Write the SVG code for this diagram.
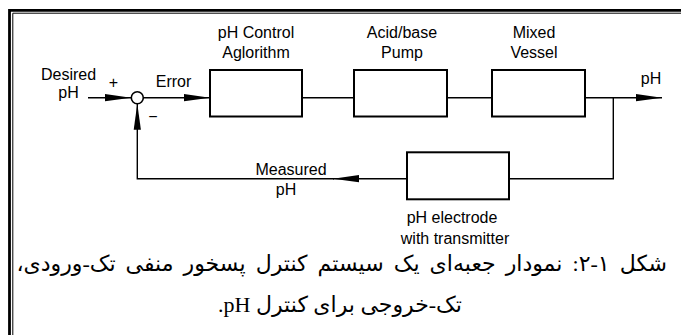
<svg xmlns="http://www.w3.org/2000/svg" width="681" height="335" viewBox="0 0 681 335">
<style>
.lbl{font-family:"Liberation Sans",Arial,sans-serif;font-size:16px;fill:#000;text-anchor:middle}
.blk{fill:#fff;stroke:#000;stroke-width:2}
.wire{fill:none;stroke:#000;stroke-width:1.4}
.cap{font-family:"Liberation Serif","DejaVu Sans",serif;font-size:22px;fill:#000}
</style>
<defs>
<marker id="ah" markerUnits="userSpaceOnUse" markerWidth="28" markerHeight="10" refX="26" refY="5" orient="auto">
<path d="M0,1.4 L26,5 L0,8.6 Z" fill="#000"/>
</marker>
</defs>
<rect width="681" height="335" fill="#fff"/>
<g id="frame" fill="none" stroke="#000">
<path d="M9.5,335 V10.4 H681" stroke-width="2.8"/>
<path d="M12.8,335 V13.2 H681" stroke-width="1"/>
</g>
<g id="connectors">
<path class="wire" d="M88,97.7 H131" marker-end="url(#ah)"/>
<path class="wire" d="M143,97.7 H210" marker-end="url(#ah)"/>
<path class="wire" d="M302,97.7 H354"/>
<path class="wire" d="M447,97.7 H492"/>
<path class="wire" d="M585,97.7 H662" marker-end="url(#ah)"/>
<path class="wire" d="M613.3,97.7 V178.7 H509"/>
<path class="wire" d="M407,178.7 H333" marker-end="url(#ah)"/>
<path class="wire" d="M334,178.7 H137.3 V103.7" marker-end="url(#ah)"/>
</g>
<g id="sum">
<circle cx="137.3" cy="97.7" r="6" fill="#fff" stroke="#000" stroke-width="1.6"/>
<text class="lbl" x="113.5" y="88">+</text>
<text class="lbl" x="153" y="122">−</text>
</g>
<g id="input">
<text class="lbl" x="68.5" y="80">Desired</text>
<text class="lbl" x="68.5" y="98">pH</text>
</g>
<g id="error"><text class="lbl" x="173.5" y="87">Error</text></g>
<g id="controller">
<rect class="blk" x="210" y="70" width="92" height="46.5"/>
<text class="lbl" x="256" y="38">pH Control</text>
<text class="lbl" x="256" y="58">Aglorithm</text>
</g>
<g id="pump">
<rect class="blk" x="354" y="70" width="93" height="46.5"/>
<text class="lbl" x="402" y="38">Acid/base</text>
<text class="lbl" x="402" y="58">Pump</text>
</g>
<g id="vessel">
<rect class="blk" x="492" y="70" width="93" height="46.5"/>
<text class="lbl" x="534" y="38">Mixed</text>
<text class="lbl" x="534" y="58">Vessel</text>
</g>
<g id="output"><text class="lbl" x="651" y="84">pH</text></g>
<g id="electrode">
<rect class="blk" x="407" y="152.3" width="102" height="47"/>
<text class="lbl" x="452" y="223">pH electrode</text>
<text class="lbl" x="455" y="244">with transmitter</text>
</g>
<g id="measured">
<text class="lbl" x="291" y="175">Measured</text>
<text class="lbl" x="286" y="195">pH</text>
</g>
<g id="caption">
<text class="cap" x="667" y="271" direction="rtl" text-anchor="start" word-spacing="4.6">شکل ۱-۲: نمودار جعبه&#8204;ای یک سیستم کنترل پسخور منفی تک-ورودی،</text>
<text class="cap" x="340" y="312" direction="rtl" text-anchor="middle" font-size="20">تک-خروجی برای کنترل pH.</text>
</g>
</svg>
